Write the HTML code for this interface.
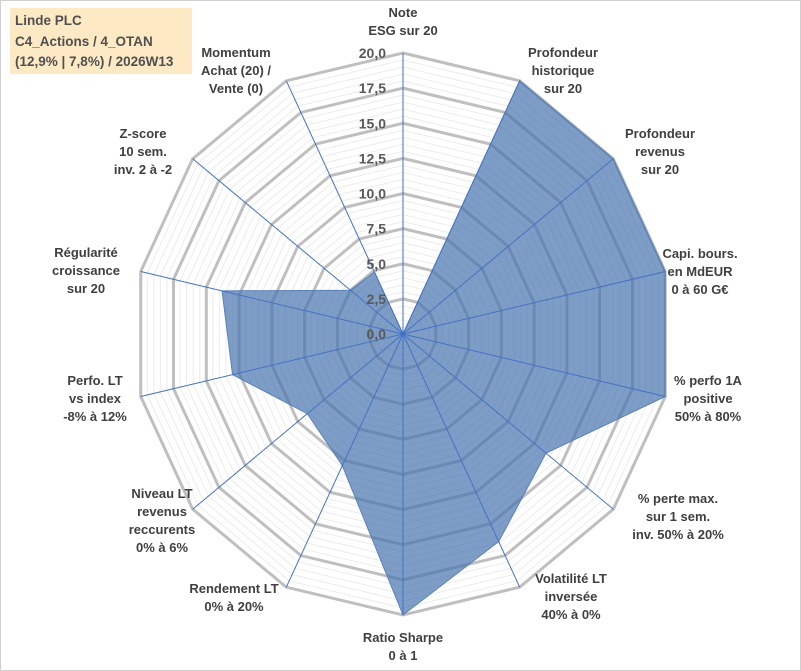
<!DOCTYPE html>
<html><head><meta charset="utf-8"><style>
body{margin:0;background:#fff;}
#wrap{position:relative;width:801px;height:671px;overflow:hidden;background:#fff;font-family:"Liberation Sans",sans-serif;}
#frame{position:absolute;left:0;top:0;width:799px;height:669px;border:1px solid #d0d0d0;}
#title{position:absolute;left:10px;top:8px;width:182px;height:66px;background:#fde9c4;color:#505050;font-size:13.5px;font-weight:bold;line-height:20.5px;padding:3px 0 0 5px;box-sizing:border-box;}
svg{position:absolute;left:0;top:0;}
</style></head><body>
<div id="wrap">
<div id="frame"></div>
<svg id="chart" width="801" height="671"></svg>
<div id="title">Linde PLC<br>C4_Actions / 4_OTAN<br>(12,9% | 7,8%) / 2026W13</div>
</div>
<script>
const categories=[["Note","ESG sur 20"],["Profondeur","historique","sur 20"],["Profondeur","revenus","sur 20"],["Capi. bours.","en MdEUR","0 à 60 G€"],["% perfo 1A","positive","50% à 80%"],["% perte max.","sur 1 sem.","inv. 50% à 20%"],["Volatilité LT","inversée","40% à 0%"],["Ratio Sharpe","0 à 1"],["Rendement LT","0% à 20%"],["Niveau LT","revenus","reccurents","0% à 6%"],["Perfo. LT","vs index","-8% à 12%"],["Régularité","croissance","sur 20"],["Z-score","10 sem.","inv. 2 à -2"],["Momentum","Achat (20) /","Vente (0)"]];
const values=[0,20,20,20,20,13.6,16.4,20,10.4,9.1,13.0,13.8,5.0,4.9];
const tickLabels=["0,0","2,5","5,0","7,5","10,0","12,5","15,0","17,5","20,0"];
const ticks=[0,2.5,5,7.5,10,12.5,15,17.5,20];
const labelPos=[[403,12],[563,52],[660,133],[700,253],[708,380],[678,498],[571,578],[403,637],[234,588],[162,493],[95,380],[86,252],[143,133],[236,52]];
const cx=403,cy=334,Rx=269,Ry=281,maxV=20;
const svg=document.getElementById('chart');
const NS='http://www.w3.org/2000/svg';
const n=categories.length;
function pt(i,v){const a=i*2*Math.PI/n;return [cx+v/maxV*Rx*Math.sin(a),cy-v/maxV*Ry*Math.cos(a)];}
function mk(t,attrs){const e=document.createElementNS(NS,t);for(const k in attrs)e.setAttribute(k,attrs[k]);svg.appendChild(e);return e;}
for(let v=0.5;v<=maxV;v+=0.5){if(Math.abs(v/2.5-Math.round(v/2.5))<1e-6)continue;
 const p=mk('polygon',{points:categories.map((c,i)=>pt(i,v).join(',')).join(' '),fill:'none',stroke:'#ececec','stroke-width':1});
 
 }
ticks.forEach((v,k)=>{if(v===0)return;
 const p=mk('polygon',{points:categories.map((c,i)=>pt(i,v).join(',')).join(' '),fill:'none',stroke:'#bfbfbf','stroke-width':3});
 
 });
const poly=mk('polygon',{points:values.map((v,i)=>pt(i,v).join(',')).join(' '),fill:'rgba(70,115,175,0.7)',stroke:'#5b82b8','stroke-width':1});


categories.forEach((c,i)=>{const e=pt(i,maxV);
 const l=mk('line',{x1:cx,y1:cy,x2:e[0],y2:e[1],stroke:'#4472c4','stroke-width':1});
 
 });
ticks.forEach((v,k)=>{const t=mk('text',{x:386,y:cy-v/maxV*Ry+5,'text-anchor':'end','font-size':14,'font-weight':'bold',fill:'#595959','font-family':'Liberation Sans, sans-serif'});
 t.textContent=tickLabels[k];
 
 });
categories.forEach((c,i)=>{const p=labelPos[i];
 const t=mk('text',{x:p[0],y:p[1]+5,'text-anchor':'middle','font-size':13,'font-weight':'bold',fill:'#404040','font-family':'Liberation Sans, sans-serif'});
 
 
 c.forEach((s,j)=>{const ts=document.createElementNS(NS,'tspan');ts.setAttribute('x',p[0]);ts.setAttribute('dy',j===0?0:18);ts.textContent=s;t.appendChild(ts);});});
</script>
</body></html>
